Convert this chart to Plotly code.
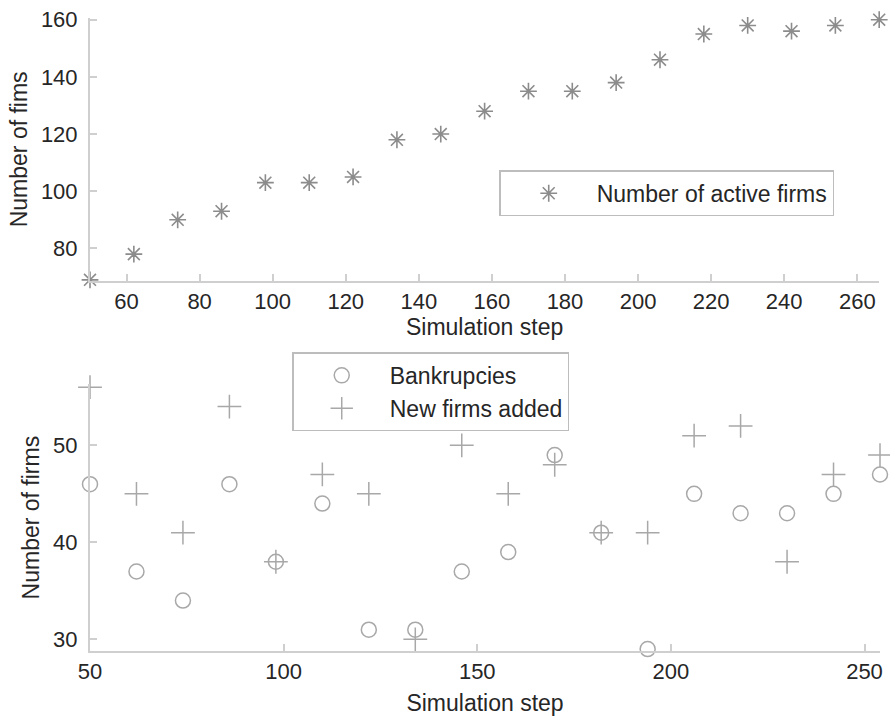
import plotly.graph_objects as go

# ---- data ----
steps_top = [50, 62, 74, 86, 98, 110, 122, 134, 146, 158, 170, 182, 194, 206, 218, 230, 242, 254, 266]
active_firms = [69, 78, 90, 93, 103, 103, 105, 118, 120, 128, 135, 135, 138, 146, 155, 158, 156, 158, 160]

steps_bottom = [50, 62, 74, 86, 98, 110, 122, 134, 146, 158, 170, 182, 194, 206, 218, 230, 242, 254]
bankruptcies = [46, 37, 34, 46, 38, 44, 31, 31, 37, 39, 49, 41, 29, 45, 43, 43, 45, 47]
new_firms = [56, 45, 41, 54, 38, 47, 45, 30, 50, 45, 48, 41, 41, 51, 52, 38, 47, 49]

top_xticks = [60, 80, 100, 120, 140, 160, 180, 200, 220, 240, 260]
top_yticks = [80, 100, 120, 140, 160]
bot_xticks = [50, 100, 150, 200, 250]
bot_yticks = [30, 40, 50]

FONT = "Liberation Sans, Arial, sans-serif"
TXT = "#262626"
AX = "#cfcfcf"
MK = "#a8a8a8"

fig = go.Figure()

fig.add_trace(go.Scatter(
    x=steps_top, y=active_firms, mode="markers", name="Number of active firms",
    marker=dict(symbol="asterisk-open", size=14, color="#8c8c8c",
                line=dict(width=1.6, color="#8c8c8c")),
    cliponaxis=False, xaxis="x", yaxis="y", legend="legend"))

fig.add_trace(go.Scatter(
    x=steps_bottom, y=bankruptcies, mode="markers", name="Bankrupcies",
    marker=dict(symbol="circle-open", size=15, color=MK, line=dict(width=1.5, color=MK)),
    cliponaxis=False, xaxis="x2", yaxis="y2", legend="legend2"))

fig.add_trace(go.Scatter(
    x=steps_bottom, y=new_firms, mode="markers", name="New firms added",
    marker=dict(symbol="cross-thin-open", size=17, color=MK, line=dict(width=1.5, color=MK)),
    cliponaxis=False, xaxis="x2", yaxis="y2", legend="legend2"))

axis_common = dict(
    showline=True, linecolor=AX, linewidth=2, showgrid=False, zeroline=False,
    ticks="inside", ticklen=7, tickwidth=1.5, tickcolor=AX,
    tickfont=dict(family=FONT, size=22, color=TXT), mirror=False,
)

fig.update_layout(
    width=890, height=719,
    margin=dict(l=90, r=7, t=17, b=66),
    paper_bgcolor="white", plot_bgcolor="white",
    font=dict(family=FONT, size=23, color=TXT),
    xaxis=dict(domain=[0, 0.999], anchor="y", range=[50, 266], tickvals=top_xticks,
               ticklabelstandoff=0,
               title=dict(text="Simulation step", standoff=2, font=dict(size=23, color=TXT)),
               **axis_common),
    yaxis=dict(domain=[0.585, 1], anchor="x", range=[68.7, 160.6], tickvals=top_yticks,
               ticklabelstandoff=6,
               title=dict(text="Number of fims", standoff=7, font=dict(size=23, color=TXT)),
               **axis_common),
    xaxis2=dict(domain=[0, 1], anchor="y2", range=[50, 254], tickvals=bot_xticks,
                ticklabelstandoff=0,
                title=dict(text="Simulation step", standoff=11, font=dict(size=23, color=TXT)),
                **axis_common),
    yaxis2=dict(domain=[0, 0.4214], anchor="x2", range=[28.8, 56.3], tickvals=bot_yticks,
                ticklabelstandoff=6,
                title=dict(text="Number of firms", standoff=7, font=dict(size=23, color=TXT)),
                **axis_common),
    legend=dict(x=0.518, y=0.7594, xanchor="left", yanchor="top",
                bgcolor="white", bordercolor="#bdbdbd", borderwidth=1.5,
                itemwidth=86, font=dict(family=FONT, size=23, color=TXT)),
    legend2=dict(x=0.256, y=0.4717, xanchor="left", yanchor="top",
                 bgcolor="white", bordercolor="#bdbdbd", borderwidth=1.5,
                 itemwidth=86, font=dict(family=FONT, size=23, color=TXT)),
    showlegend=True,
)

fig.write_html("out.html")
